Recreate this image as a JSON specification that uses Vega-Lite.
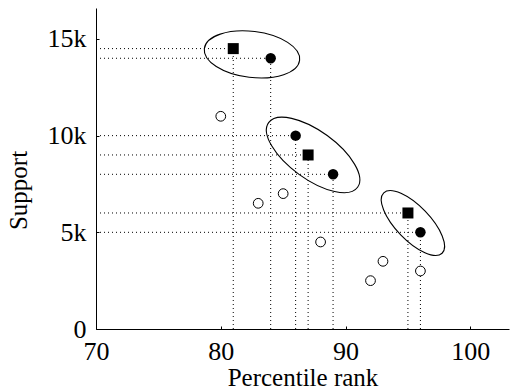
{
  "$schema": "https://vega.github.io/schema/vega-lite/v6.json",
  "width": 413,
  "height": 321,
  "autosize": {"type": "none"},
  "padding": {"left": 96, "top": 8, "right": 1, "bottom": 61},
  "config": {
    "view": {"stroke": null},
    "font": "Liberation Serif",
    "axis": {
      "grid": false,
      "domainColor": "#000",
      "domainWidth": 1,
      "tickColor": "#000",
      "tickSize": -3,
      "labelColor": "#000",
      "titleColor": "#000",
      "labelFont": "Liberation Serif",
      "titleFont": "Liberation Serif",
      "labelFontSize": 26,
      "titleFontSize": 25,
      "titleFontWeight": "normal",
      "labelFlush": false,
      "labelOverlap": false
    }
  },
  "datasets": {
    "points": [
      {"x": 80, "y": 11000, "kind": "open"},
      {"x": 83, "y": 6500, "kind": "open"},
      {"x": 85, "y": 7000, "kind": "open"},
      {"x": 88, "y": 4500, "kind": "open"},
      {"x": 92, "y": 2500, "kind": "open"},
      {"x": 93, "y": 3500, "kind": "open"},
      {"x": 96, "y": 3000, "kind": "open"},
      {"x": 84, "y": 14000, "kind": "filled"},
      {"x": 86, "y": 10000, "kind": "filled"},
      {"x": 89, "y": 8000, "kind": "filled"},
      {"x": 96, "y": 5000, "kind": "filled"},
      {"x": 81, "y": 14500, "kind": "square"},
      {"x": 87, "y": 9000, "kind": "square"},
      {"x": 95, "y": 6000, "kind": "square"}
    ],
    "ellipses": [
      {"group": "A", "x": 82.5, "y": 14200},
      {"group": "B", "x": 87.4, "y": 9000},
      {"group": "C", "x": 95.4, "y": 5480}
    ]
  },
  "data": {"name": "points"},
  "encoding": {
    "x": {
      "field": "x",
      "type": "quantitative",
      "scale": {"domain": [70, 103.1], "nice": false, "zero": false},
      "axis": {
        "values": [70, 80, 90, 100],
        "title": "Percentile rank",
        "labelPadding": 12,
        "titleBaseline": "alphabetic",
        "titleY": 56
      }
    },
    "y": {
      "field": "y",
      "type": "quantitative",
      "scale": {"domain": [0, 16600], "nice": false, "zero": false},
      "axis": {
        "values": [0, 5000, 10000, 15000],
        "labelExpr": "datum.value === 0 ? '0' : (datum.value / 1000) + 'k'",
        "title": "Support",
        "labelPadding": 13,
        "titleAngle": -90,
        "titleAlign": "center",
        "titleBaseline": "alphabetic",
        "titleX": -70,
        "titleY": 182
      }
    }
  },
  "layer": [
    {
      "transform": [{"filter": "datum.kind !== 'open'"}],
      "mark": {"type": "rule", "stroke": "#000", "strokeWidth": 1, "strokeDash": [1, 3]},
      "encoding": {
        "x": {"datum": 70, "type": "quantitative"},
        "x2": {"field": "x"}
      }
    },
    {
      "transform": [{"filter": "datum.kind !== 'open'"}],
      "mark": {"type": "rule", "stroke": "#000", "strokeWidth": 1, "strokeDash": [1, 3]},
      "encoding": {
        "y": {"datum": 0, "type": "quantitative"},
        "y2": {"field": "y"}
      }
    },
    {
      "data": {"name": "ellipses"},
      "transform": [{"filter": "datum.group === 'A'"}],
      "mark": {
        "type": "point",
        "filled": false,
        "stroke": "#000",
        "strokeWidth": 1.1,
        "opacity": 1,
        "size": 9216,
        "angle": 7,
        "shape": "M-1,0C-1,-0.265,-0.552,-0.48,0,-0.48C0.552,-0.48,1,-0.265,1,0C1,0.265,0.552,0.48,0,0.48C-0.552,0.48,-1,0.265,-1,0Z"
      }
    },
    {
      "data": {"name": "ellipses"},
      "transform": [{"filter": "datum.group === 'B'"}],
      "mark": {
        "type": "point",
        "filled": false,
        "stroke": "#000",
        "strokeWidth": 1.1,
        "opacity": 1,
        "size": 12100,
        "angle": 36,
        "shape": "M-1,0C-1,-0.241,-0.552,-0.436,0,-0.436C0.552,-0.436,1,-0.241,1,0C1,0.241,0.552,0.436,0,0.436C-0.552,0.436,-1,0.241,-1,0Z"
      }
    },
    {
      "data": {"name": "ellipses"},
      "transform": [{"filter": "datum.group === 'C'"}],
      "mark": {
        "type": "point",
        "filled": false,
        "stroke": "#000",
        "strokeWidth": 1.1,
        "opacity": 1,
        "size": 7056,
        "angle": 46,
        "shape": "M-1,0C-1,-0.224,-0.552,-0.405,0,-0.405C0.552,-0.405,1,-0.224,1,0C1,0.224,0.552,0.405,0,0.405C-0.552,0.405,-1,0.224,-1,0Z"
      }
    },
    {
      "transform": [{"filter": "datum.kind === 'open'"}],
      "mark": {"type": "point", "shape": "circle", "filled": true, "fill": "#fff", "stroke": "#000", "strokeWidth": 1, "size": 95, "opacity": 1}
    },
    {
      "transform": [{"filter": "datum.kind === 'filled'"}],
      "mark": {"type": "point", "shape": "circle", "filled": true, "fill": "#000", "stroke": null, "size": 110, "opacity": 1}
    },
    {
      "transform": [{"filter": "datum.kind === 'square'"}],
      "mark": {"type": "point", "shape": "square", "filled": true, "fill": "#000", "stroke": null, "size": 121, "opacity": 1}
    },
    {
      "data": {"values": [{}]},
      "mark": {"type": "point", "filled": false, "stroke": "#000", "strokeWidth": 1, "opacity": 1, "size": 49, "angle": 0, "shape": "M-0.7,-1Q-0.2,-0.2,0,0Q-0.2,0.2,-0.7,1"},
      "encoding": {
        "x": {"datum": 103.1, "type": "quantitative"},
        "y": {"datum": 0, "type": "quantitative"}
      }
    },
    {
      "data": {"values": [{}]},
      "mark": {"type": "point", "filled": false, "stroke": "#000", "strokeWidth": 1, "opacity": 1, "size": 49, "angle": -90, "shape": "M-0.7,-1Q-0.2,-0.2,0,0Q-0.2,0.2,-0.7,1"},
      "encoding": {
        "x": {"datum": 70, "type": "quantitative"},
        "y": {"datum": 16600, "type": "quantitative"}
      }
    }
  ]
}
